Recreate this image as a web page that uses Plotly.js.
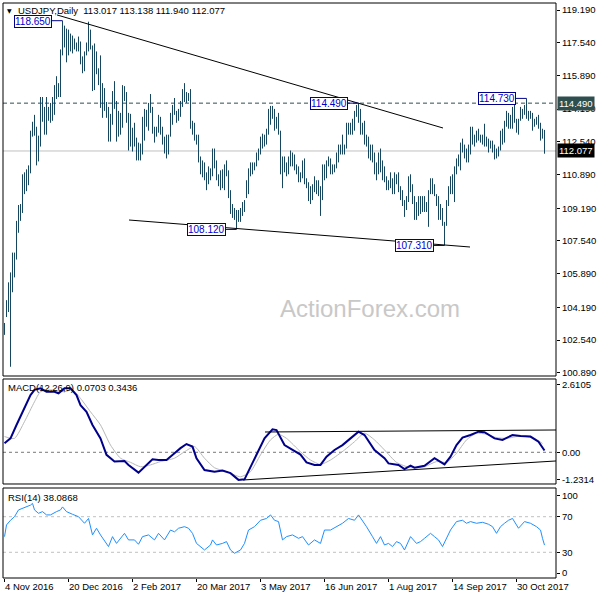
<!DOCTYPE html>
<html><head><meta charset="utf-8">
<script src="https://cdn.plot.ly/plotly-3.0.1.min.js"></script>
<style>html,body{margin:0;padding:0;background:#fff;}#chart{width:600px;height:600px;}</style>
</head><body><div id="chart"></div>
<script>
// Daily USDJPY bars, 4 Nov 2016 .. 17 Nov 2017 (index 0..270)
const high = [103.40,
104.55,105.45,105.95,106.95,106.95, 108.55,109.35,109.40,110.90,111.00, 111.15,111.35,113.10,113.55,113.90,
113.30,112.85,114.80,114.80,114.30, 114.80,114.30,114.50,114.80,115.40, 115.85,115.50,117.20,118.65,118.40,
118.25,118.20,118.00,117.90,117.75, 117.55,117.85,117.60,116.85,117.10, 117.55,118.60,118.20,117.40,117.50,
117.10,116.25,116.90,115.50,115.25, 114.55,114.30,113.95,115.10,115.60, 114.60,114.10,114.00,115.40,115.35,
115.05,114.00,113.95,113.25,113.50, 112.75,112.50,112.45,113.80,114.20, 114.15,114.50,114.95,114.30,113.30,
113.30,113.90,113.80,113.30,112.80, 112.90,112.90,114.00,114.40,114.75, 114.10,114.20,114.60,115.20,115.50,
115.05,115.00,115.20,113.60,113.50, 112.90,112.90,111.80,111.60,111.50, 111.00,111.30,111.20,112.20,112.20,
111.60,110.90,111.10,111.15,111.40, 111.60,111.10,110.10,109.40,109.20, 109.10,109.10,109.20,109.50,109.60,
110.60,111.20,111.50,111.50,111.50, 112.00,112.20,112.80,112.95,112.90, 113.20,114.20,114.35,114.35,114.20,
113.80,114.00,113.10,111.80,111.80, 111.50,111.80,112.10,112.00,111.90, 111.40,111.30,111.00,111.60,111.70,
110.70,110.50,110.30,110.40,110.80, 110.60,110.60,110.30,111.40,111.40, 111.60,111.80,111.70,111.40,111.40,
112.00,112.40,112.40,112.90,112.40, 113.50,113.50,113.50,113.70,114.10, 114.40,114.49,114.20,113.50,113.60,
112.90,112.80,112.40,112.40,112.00, 111.50,112.00,112.20,111.60,111.30, 110.80,110.60,111.00,110.70,111.00,
110.90,111.00,110.30,110.10,109.60, 109.80,110.80,110.90,110.40,109.80, 109.50,109.80,109.80,109.80,109.80,
109.50,110.10,110.70,110.70,110.40, 109.90,109.80,109.40,109.20,108.50, 109.60,110.30,110.80,110.90,111.30,
111.70,111.90,112.50,112.70,112.40, 112.20,112.40,113.30,113.30,112.90, 113.10,113.20,112.90,112.90,113.45,
112.80,112.70,112.60,112.60,112.40, 112.20,112.30,113.10,113.20,113.60, 114.10,114.00,113.90,114.30,114.40,
113.70,113.70,114.30,114.20,114.40, 114.73,114.10,114.10,114.00,113.70, 113.80,113.90,113.50,113.20,113.14];
const low = [102.80,
103.70,103.95,101.19,104.95,105.70, 106.60,107.95,108.55,108.95,109.90, 110.05,110.35,110.95,112.80,112.85,
111.35,111.55,112.30,113.55,112.90, 112.90,113.60,113.50,113.60,113.90, 114.70,114.80,114.80,116.90,117.30,
116.55,116.90,117.10,117.00,117.20, 117.10,117.10,116.45,116.00,116.10, 116.90,117.10,117.20,115.10,115.15,
115.95,115.40,114.25,113.75,114.10, 113.75,112.55,112.55,113.40,114.20, 112.55,112.80,112.90,113.25,114.60,
113.50,112.10,112.30,112.05,112.30, 111.60,111.60,111.60,111.90,112.60, 113.30,113.10,114.00,112.95,112.50,
112.80,113.00,112.90,112.40,111.95, 111.70,111.90,112.80,113.40,113.90, 113.50,113.60,113.80,114.30,114.55,
114.50,114.60,113.20,112.90,112.60, 112.40,111.50,110.90,110.75,110.60, 110.10,110.40,110.60,110.80,111.20,
110.60,110.30,110.10,110.20,110.10, 110.80,109.70,108.90,108.70,108.60, 108.12,108.50,108.50,108.80,109.00,
109.70,109.90,110.80,110.90,111.10, 111.30,111.60,111.90,112.20,112.30, 112.40,112.90,113.40,113.70,113.10,
113.20,112.90,110.90,110.20,111.00, 110.80,110.90,111.30,111.30,111.10, 110.90,110.50,110.50,110.70,110.40,
110.20,109.55,109.40,109.60,110.00, 109.90,109.80,108.80,109.60,110.60, 110.70,111.30,110.90,110.90,111.00,
111.20,111.50,111.90,111.90,111.90, 112.20,112.90,112.90,112.90,113.10, 113.80,113.50,112.90,112.90,112.40,
112.30,111.70,111.60,111.50,110.90, 110.60,110.90,111.00,110.60,110.50, 110.10,110.10,110.20,109.90,109.90,
110.40,110.00,109.60,109.30,108.75, 109.10,109.50,110.00,109.40,108.60, 108.60,108.80,108.90,109.00,109.00,
109.00,108.25,109.90,109.90,109.80, 109.30,108.60,108.60,108.30,107.31, 108.30,109.30,109.90,109.90,109.50,
110.90,111.30,111.10,112.00,111.70, 111.50,111.50,111.90,112.40,112.30, 112.50,112.60,112.50,112.40,112.30,
112.30,112.00,112.20,112.00,111.65, 111.70,111.80,112.10,112.40,112.50, 113.30,113.20,113.20,113.20,113.50,
113.00,112.90,113.60,113.70,113.90, 113.70,113.60,113.70,113.10,113.30, 113.40,113.20,112.60,112.70,111.94];

const priceTicks = [119.19,117.54,115.89,114.19,112.54,110.89,109.19,107.54,105.89,104.19,102.54,100.89];
const xTickIdx = [0,32,64,96,128,160,192,224,256];
const xTickText = ['4 Nov 2016','20 Dec 2016','2 Feb 2017','20 Mar 2017','3 May 2017','16 Jun 2017','1 Aug 2017','14 Sep 2017','30 Oct 2017'];

const macdIdx = [0,3,6,10,13,15,18,21,25,27,30,33,36,38,41,44,48,51,55,60,62,67,71,74,77,81,85,88,91,94,96,100,105,109,113,117,120,125,130,134,136,140,143,148,151,155,158,161,165,169,173,177,180,185,190,192,197,200,203,205,210,215,220,223,226,229,233,237,240,245,249,254,258,263,267,270];
const macdVal = [0.35,0.54,1.06,1.71,2.22,2.42,2.48,2.35,2.35,2.29,2.48,2.48,2.22,1.83,1.57,1.06,0.54,-0.10,-0.36,-0.34,-0.49,-0.79,-0.49,-0.27,-0.30,-0.30,-0.04,0.16,0.32,0.22,-0.23,-0.69,-0.75,-0.71,-0.81,-1.07,-1.05,-0.23,0.54,0.89,0.86,0.28,0.13,-0.09,-0.39,-0.49,-0.49,-0.17,0.09,0.28,0.54,0.80,0.67,0.09,-0.23,-0.43,-0.49,-0.65,-0.52,-0.60,-0.52,-0.23,-0.47,-0.17,0.28,0.57,0.67,0.80,0.78,0.54,0.48,0.67,0.63,0.61,0.41,0.07];
const sigIdx = [0,5,10,15,18,23,30,34,38,43,48,53,58,63,68,73,78,85,90,95,100,105,111,118,123,128,133,137,141,148,153,158,163,170,175,180,185,190,196,203,210,216,221,226,231,236,241,246,251,258,265,269];
const sigVal = [0.61,0.54,1.19,1.96,2.35,2.42,2.35,2.42,2.09,1.57,1.06,0.28,-0.23,-0.39,-0.56,-0.49,-0.36,-0.23,0.02,0.22,-0.23,-0.60,-0.75,-0.95,-0.75,-0.10,0.48,0.70,0.54,0.02,-0.30,-0.47,-0.30,0.09,0.41,0.74,0.48,0.09,-0.39,-0.60,-0.56,-0.36,-0.39,-0.04,0.48,0.74,0.70,0.57,0.54,0.63,0.54,0.34];

const rsiIdx = [0,1,3,5,7,9,11,13,14,15,17,19,21,23,26,28,29,31,34,37,40,42,44,46,48,52,54,56,60,62,65,67,69,72,75,77,80,83,85,87,90,92,94,96,100,103,104,106,109,111,113,115,118,120,122,125,128,131,133,135,137,139,141,144,147,149,152,155,158,160,163,166,169,172,175,177,179,181,184,186,188,190,192,194,196,198,200,203,206,208,210,213,215,217,219,221,223,226,229,231,233,236,239,242,244,246,248,250,252,254,255,257,260,263,266,268,269,270];
const rsiVal = [47.6,60.7,66,70,77.6,79.4,81,83,85,77.6,73.8,75.7,72,72,75.7,77.6,81,75.7,72.7,70,62.6,68,49.5,57,49.5,36.4,47.6,40,51.3,43.9,43.9,39,47.6,49.5,43.9,51.3,43.9,55,53,57,58.8,57,51.3,40,32.6,38.2,43.9,38.2,40,42,32.6,28.9,32.6,40,55,58.8,66,68,72,66,64.5,43.9,47.6,49.5,45.7,47.6,38.2,43.9,40,55,55,58.8,62.6,68,66,72,66,58.8,47.6,40,47.6,38.2,40,36.4,42,40,32.6,47.6,40,42,45.7,51.3,47.6,43.9,36.4,45.7,55,64.5,66,62.6,64.5,62.6,63.7,61.5,58.8,51.3,58.8,62.6,66,68,64.5,57,64.5,62.6,58.8,55,45.7,38.1];

// Chart objects (index, price)
const trendUpX = [26.25, 219.25], trendUpY = [118.94, 113.236];
const trendLoX = [62.25, 232.75], trendLoY = [108.595, 107.232];
const macdUpX = [130.25, 275.75], macdUpY = [0.787, 0.865];
const macdLoX = [119.25, 275.75], macdLoY = [-1.074, -0.337];
const labelBars = [29, 177, 116, 220, 261];
const labelPrices = [118.65, 114.49, 108.12, 107.31, 114.73];
const resistance = 114.49, lastClose = 112.077;

const F = 'Liberation Sans, Arial, sans-serif';
const bx = [], by = [];
for (let i = 0; i < high.length; i++) { bx.push(i, i, null); by.push(low[i], high[i], null); }

const traces = [
  {type:'scatter', mode:'lines', x:bx, y:by, line:{color:'#16475e', width:1}, yaxis:'y', connectgaps:false},
  {type:'scatter', mode:'lines', x:trendUpX, y:trendUpY, line:{color:'#000', width:1}, yaxis:'y'},
  {type:'scatter', mode:'lines', x:trendLoX, y:trendLoY, line:{color:'#000', width:1}, yaxis:'y'},
  {type:'scatter', mode:'lines', x:sigIdx, y:sigVal, line:{color:'#b8b8b8', width:1, shape:'spline', smoothing:0.6}, yaxis:'y2'},
  {type:'scatter', mode:'lines', x:macdIdx, y:macdVal, line:{color:'#00008b', width:2}, yaxis:'y2'},
  {type:'scatter', mode:'lines', x:macdUpX, y:macdUpY, line:{color:'#000', width:1}, yaxis:'y2'},
  {type:'scatter', mode:'lines', x:macdLoX, y:macdLoY, line:{color:'#000', width:1}, yaxis:'y2'},
  {type:'scatter', mode:'lines', x:rsiIdx, y:rsiVal, line:{color:'#1e90ff', width:1}, yaxis:'y3'}
];
labelBars.forEach((b, k) => {
  traces.push({type:'scatter', mode:'lines', x:[b-5.5, b], y:[labelPrices[k], labelPrices[k]], line:{color:'#00008b', width:1}, yaxis:'y'});
});

const annotations = labelBars.map((b, k) => ({
  x: b-5.5, y: labelPrices[k], xref:'x', yref:'y', text: labelPrices[k].toFixed(3), showarrow:false,
  xanchor:'right', yanchor:'middle', bgcolor:'#fff', bordercolor:'#00008b', borderwidth:1, borderpad:0,
  yshift: (k === 0 ? -1 : 0),
  font:{family:F, size:10, color:'#0000cd'}
}));
annotations.push(
  {x:0, y:1, xref:'paper', yref:'paper', xshift:6.5, yshift:-7, text:'▼', showarrow:false, xanchor:'center', yanchor:'middle', font:{family:'DejaVu Sans', size:6, color:'#000'}},
  {x:0, y:1, xref:'paper', yref:'paper', xshift:13, yshift:-7, text:'USDJPY,Daily  113.017 113.138 111.940 112.077', showarrow:false, xanchor:'left', yanchor:'middle', font:{family:F, size:9.5, color:'#000'}},
  {x:0, y:0.34609, xref:'paper', yref:'paper', xshift:3, yshift:-9, text:'MACD(12,26,9) 0.0703 0.3436', showarrow:false, xanchor:'left', yanchor:'middle', font:{family:F, size:9.5, color:'#000'}},
  {x:0, y:0.15652, xref:'paper', yref:'paper', xshift:3, yshift:-9, text:'RSI(14) 38.0868', showarrow:false, xanchor:'left', yanchor:'middle', font:{family:F, size:9.5, color:'#000'}},
  {x:1, y:resistance, xref:'paper', yref:'y', xshift:1, text:resistance.toFixed(3), showarrow:false, xanchor:'left', yanchor:'middle', bgcolor:'#2f4f4f', borderpad:1, font:{family:F, size:9.5, color:'#fff'}},
  {x:1, y:lastClose, xref:'paper', yref:'y', xshift:1, text:lastClose.toFixed(3), showarrow:false, xanchor:'left', yanchor:'middle', bgcolor:'#000', borderpad:1, font:{family:F, size:9.5, color:'#fff'}},
  {x:182.75, y:104.15, xref:'x', yref:'y', text:'ActionForex.com', showarrow:false, xanchor:'center', yanchor:'middle', font:{family:F, size:24, color:'#c8c8c8'}}
);

const frame = (y0, y1) => ({type:'rect', xref:'paper', yref:'paper', x0:0, x1:1, y0:y0, y1:y1, line:{color:'#000', width:1}, fillcolor:'rgba(0,0,0,0)', layer:'above'});
const shapes = [
  {type:'line', xref:'paper', yref:'y', x0:0, x1:1, y0:lastClose, y1:lastClose, line:{color:'#c0c0c0', width:1}, layer:'below'},
  {type:'line', xref:'paper', yref:'y', x0:0, x1:1, y0:resistance, y1:resistance, line:{color:'#2f4f4f', width:1, dash:'4px,3px'}, layer:'below'},
  {type:'line', xref:'paper', yref:'y2', x0:0, x1:1, y0:0, y1:0, line:{color:'#777', width:1, dash:'3px,3px'}, layer:'below'},
  {type:'line', xref:'paper', yref:'y3', x0:0, x1:1, y0:70, y1:70, line:{color:'#c0c0c0', width:1, dash:'3px,3px'}, layer:'below'},
  {type:'line', xref:'paper', yref:'y3', x0:0, x1:1, y0:30, y1:30, line:{color:'#c0c0c0', width:1, dash:'3px,3px'}, layer:'below'},
  frame(0.35130, 1), frame(0.16348, 0.34609), frame(0, 0.15652)
];

const tf = {family:F, size:9.5, color:'#000'};
const yCommon = {side:'right', anchor:'x', ticks:'outside', ticklen:3, tickcolor:'#000', showgrid:false, zeroline:false, showline:false, tickfont:tf, fixedrange:true};
const layout = {
  width:600, height:600, margin:{l:3, r:44, t:3, b:22},
  paper_bgcolor:'#fff', plot_bgcolor:'#fff', showlegend:false, hovermode:false,
  xaxis:{domain:[0,1], range:[-0.75,275.75], anchor:'y3', tickvals:xTickIdx, ticktext:xTickText, ticks:'outside', ticklen:3, tickcolor:'#000', ticklabelposition:'outside right', showgrid:false, zeroline:false, showline:false, tickfont:tf, fixedrange:true},
  yaxis:Object.assign({}, yCommon, {domain:[0.35130,1], range:[100.724,119.543], tickvals:priceTicks, ticktext:priceTicks.map(v=>v.toFixed(3))}),
  yaxis2:Object.assign({}, yCommon, {domain:[0.16348,0.34609], range:[-1.23,2.843], tickvals:[2.6105,0,-1.0745], ticktext:['2.6105','0.00','-1.2314']}),
  yaxis3:Object.assign({}, yCommon, {domain:[0,0.15652], range:[1.1,102.25], tickvals:[93.3,70,30,6.7], ticktext:['100','70','30','0']}),
  shapes:shapes, annotations:annotations
};
Plotly.newPlot('chart', traces, layout, {displayModeBar:false, staticPlot:true});
</script>
</body></html>
